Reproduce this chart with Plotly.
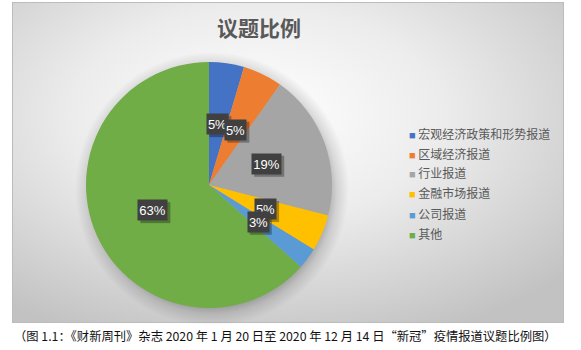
import math
import base64
import plotly.graph_objects as go

# ---- data ----
categories = ["宏观经济政策和形势报道", "区域经济报道", "行业报道", "金融市场报道", "公司报道", "其他"]
shares = [4.6, 5.2, 19.2, 4.8, 2.8, 63.4]
colors = ["#4472C4", "#ED7D31", "#A5A5A5", "#FFC000", "#5B9BD5", "#70AD47"]
title_text = "议题比例"
caption_text = "（图 1.1：《财新周刊》杂志 2020 年 1 月 20 日至 2020 年 12 月 14 日“新冠”疫情报道议题比例图）"

# ---- layout constants (pixels) ----
W, H = 581, 350
CX, CY, R = 209, 185, 123
PANEL = (12, 2, 563, 322)
LEG_X, LEG_Y0, LEG_DY = 407, 133, 20

SR = R + 14
svg = f'''<svg xmlns="http://www.w3.org/2000/svg" width="{W}" height="{H}" viewBox="0 0 {W} {H}">
<defs>
<radialGradient id="g" cx="{(258-PANEL[0])/(PANEL[2]-PANEL[0]):.3f}" cy="0.35" r="0.75">
<stop offset="0" stop-color="#ffffff"/>
<stop offset="0.45" stop-color="#ececec"/>
<stop offset="1" stop-color="#c2c2c2"/>
</radialGradient>
<radialGradient id="s" gradientUnits="userSpaceOnUse" cx="{CX+3}" cy="{CY+4}" r="{SR}">
<stop offset="{(R-8)/SR:.3f}" stop-color="#000000" stop-opacity="0.30"/>
<stop offset="{(R+2)/SR:.3f}" stop-color="#000000" stop-opacity="0.12"/>
<stop offset="1" stop-color="#000000" stop-opacity="0"/>
</radialGradient>
</defs>
<rect x="0" y="0" width="{W}" height="{H}" fill="#ffffff"/>
<rect x="{PANEL[0]+0.5}" y="{PANEL[1]+0.5}" width="{PANEL[2]-PANEL[0]}" height="{PANEL[3]-PANEL[1]}" fill="url(#g)" stroke="#bcbcbc" stroke-width="1"/>
<circle cx="{CX+3}" cy="{CY+4}" r="{SR}" fill="url(#s)"/>
</svg>'''
bg_uri = "data:image/svg+xml;base64," + base64.b64encode(svg.encode("utf-8")).decode()

fig = go.Figure()
fig.add_trace(go.Pie(
    labels=categories,
    values=shares,
    sort=False,
    direction="clockwise",
    rotation=0,
    marker=dict(colors=colors, line=dict(width=0)),
    textinfo="none",
    hoverinfo="label+percent",
    showlegend=False,
    domain=dict(x=[(CX - R) / W, (CX + R) / W], y=[1 - (CY + R) / H, 1 - (CY - R) / H]),
))

# data labels: at half radius along each slice's mid-angle, dark boxes with soft shadow
total = sum(shares)
annotations = []
shapes = []
cum = 0.0
for v in shares:
    mid = (cum + v / 2) / total * 2 * math.pi
    cum += v
    px = CX + 0.5 * R * math.sin(mid)
    py = CY - 0.5 * R * math.cos(mid)
    label = f"{round(v / total * 100)}%"
    bw = 8 * len(label) + 5
    bh = 20
    shapes.append(dict(type="rect", xref="paper", yref="paper", layer="above",
                       x0=(px - bw / 2 + 2) / W, x1=(px + bw / 2 + 3) / W,
                       y0=1 - (py + bh / 2 + 3) / H, y1=1 - (py - bh / 2 + 2) / H,
                       fillcolor="rgba(0,0,0,0.30)", line=dict(width=0)))
    annotations.append(dict(text=label, xref="paper", yref="paper", x=px / W, y=1 - py / H,
                            showarrow=False, xanchor="center", yanchor="middle",
                            width=bw, height=bh, borderpad=0, bgcolor="#404040",
                            font=dict(family="Liberation Sans, Arial", size=13, color="#ffffff")))

annotations.append(dict(text=f"<b>{title_text}</b>", xref="paper", yref="paper", x=259 / W, y=1 - 27 / H,
                        showarrow=False, xanchor="center", yanchor="middle",
                        font=dict(family="Noto Sans CJK SC", size=21, color="#595959")))
annotations.append(dict(text=caption_text, xref="paper", yref="paper", x=285 / W, y=1 - 336 / H,
                        showarrow=False, xanchor="center", yanchor="middle",
                        font=dict(family="Noto Sans CJK SC", size=12.3, color="#111111")))

# legend (square swatch + category name)
for i, (name, col) in enumerate(zip(categories, colors)):
    annotations.append(dict(
        text=f'<span style="font-family:Liberation Sans;font-size:11px;fill:{col}">■</span> {name}',
        xref="paper", yref="paper", x=LEG_X / W, y=1 - (LEG_Y0 + i * LEG_DY) / H,
        showarrow=False, xanchor="left", yanchor="middle", align="left",
        font=dict(family="Noto Sans CJK SC", size=12, color="#595959")))

fig.update_layout(
    width=W, height=H,
    margin=dict(l=0, r=0, t=0, b=0),
    paper_bgcolor="#ffffff",
    plot_bgcolor="rgba(0,0,0,0)",
    images=[dict(source=bg_uri, xref="paper", yref="paper", x=0, y=1, sizex=1, sizey=1,
                 xanchor="left", yanchor="top", sizing="stretch", layer="below")],
    annotations=annotations,
    shapes=shapes,
    showlegend=False,
)

fig.write_html("out.html")
